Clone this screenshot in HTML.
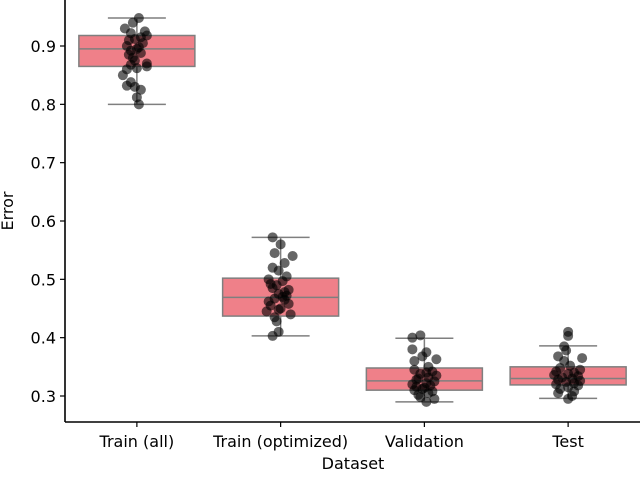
<!DOCTYPE html>
<html><head><meta charset="utf-8"><style>
body{margin:0;background:#fff}
svg text{font-family:"DejaVu Sans","Liberation Sans",sans-serif;fill:#000}
</style></head><body>
<svg id="chart" width="640" height="473" viewBox="0 0 640 473">
<g id="boxes"></g>
<g id="pts"></g>
<g id="axes"></g>
</svg>
<script>
const categories=["Train (all)","Train (optimized)","Validation","Test"];
const whiskLow=[0.800,0.403,0.290,0.296];
const q1=[0.865,0.437,0.310,0.319];
const medians=[0.895,0.469,0.326,0.330];
const q3=[0.918,0.502,0.348,0.350];
const whiskHigh=[0.948,0.572,0.399,0.386];
const yTicks=[0.3,0.4,0.5,0.6,0.7,0.8,0.9];
const pts0=[0.948,0.940,0.930,0.925,0.922,0.918,0.915,0.912,0.910,0.905,0.900,0.898,0.895,0.892,0.888,0.885,0.880,0.875,0.870,0.868,0.865,0.862,0.860,0.850,0.838,0.832,0.830,0.825,0.812,0.800];
const jit0=[2,-4,-12,8,-6,10,4,-2,-8,6,-10,2,0,-6,4,-8,-4,-2,10,-6,10,0,-10,-14,-6,-10,-2,4,0,2];
const pts1=[0.572,0.560,0.545,0.540,0.528,0.520,0.515,0.505,0.500,0.497,0.492,0.490,0.485,0.482,0.478,0.475,0.472,0.470,0.467,0.465,0.462,0.458,0.455,0.450,0.448,0.445,0.440,0.435,0.428,0.410,0.403];
const jit1=[-8,0,-6,12,4,-8,-2,6,-12,2,-10,-4,-8,8,4,-2,6,2,-6,4,-12,8,-10,0,-2,-14,10,-6,-4,-2,-8];
const pts2=[0.404,0.400,0.380,0.375,0.368,0.363,0.360,0.350,0.345,0.342,0.340,0.338,0.335,0.332,0.330,0.328,0.325,0.322,0.320,0.318,0.316,0.314,0.312,0.310,0.308,0.305,0.302,0.298,0.295,0.290];
const jit2=[-4,-12,-12,2,-2,12,-10,4,-10,8,2,-4,12,4,-6,-8,10,2,-12,6,-8,0,-2,-10,8,4,-6,-4,10,2];
const pts3=[0.410,0.403,0.385,0.378,0.368,0.365,0.360,0.352,0.348,0.345,0.342,0.340,0.338,0.336,0.334,0.332,0.330,0.328,0.326,0.324,0.322,0.320,0.318,0.315,0.312,0.308,0.305,0.300,0.295];
const jit3=[0,0,-4,-2,-10,14,-4,2,-8,12,-12,6,0,-14,10,-6,4,-10,12,-2,6,-12,10,0,-8,6,-10,4,0];
const points=[pts0,pts1,pts2,pts3], jitters=[jit0,jit1,jit2,jit3];

const L=65,R=640,T=0,B=422,band=(R-L)/categories.length,boxW=116;
const y=v=>396-(v-0.3)*583.33;
const x=i=>L+band*(i+0.5);
const NS="http://www.w3.org/2000/svg";
function mk(parent,tag,attrs){const e=document.createElementNS(NS,tag);for(const k in attrs)e.setAttribute(k,attrs[k]);parent.appendChild(e);return e;}
const gB=document.getElementById('boxes'),gP=document.getElementById('pts'),gA=document.getElementById('axes');
const gc="#7f7f7f";
const FS=16;
categories.forEach((c,i)=>{
  const cx=x(i);
  let e;
  e=mk(gB,'line',{x1:cx,x2:cx,y1:y(whiskHigh[i]),y2:y(q3[i]),stroke:gc,'stroke-width':1.5});
  
  
  e=mk(gB,'line',{x1:cx,x2:cx,y1:y(q1[i]),y2:y(whiskLow[i]),stroke:gc,'stroke-width':1.5});
  
  
  e=mk(gB,'line',{x1:cx-29,x2:cx+29,y1:y(whiskHigh[i]),y2:y(whiskHigh[i]),stroke:gc,'stroke-width':1.5});
  
  
  e=mk(gB,'line',{x1:cx-29,x2:cx+29,y1:y(whiskLow[i]),y2:y(whiskLow[i]),stroke:gc,'stroke-width':1.5});
  
  
  e=mk(gB,'rect',{x:cx-boxW/2,y:y(q3[i]),width:boxW,height:y(q1[i])-y(q3[i]),fill:"#ef8089",stroke:gc,'stroke-width':1.5});
  
  
  e=mk(gB,'line',{x1:cx-boxW/2,x2:cx+boxW/2,y1:y(medians[i]),y2:y(medians[i]),stroke:gc,'stroke-width':1.5});
  
  
  points[i].forEach((v,j)=>{
    const p=mk(gP,'circle',{cx:cx+jitters[i][j],cy:y(v),r:5,fill:"#000",'fill-opacity':0.6});
    
    
  });
  const t=mk(gA,'line',{x1:cx,x2:cx,y1:B,y2:B+5,stroke:"#000",'stroke-width':1.2});
  
  
  const lb=mk(gA,'text',{x:cx,y:B+25,'text-anchor':'middle','font-size':FS});
  lb.textContent=c;
  
  
});
yTicks.forEach(v=>{
  const t=mk(gA,'line',{x1:L-5,x2:L,y1:y(v),y2:y(v),stroke:"#000",'stroke-width':1.2});
  
  
  const lb=mk(gA,'text',{x:L-9,y:y(v)+6,'text-anchor':'end','font-size':FS});
  lb.textContent=v.toFixed(1);
  
  
});
let e=mk(gA,'line',{x1:L,x2:L,y1:T,y2:B,stroke:"#000",'stroke-width':1.6});


e=mk(gA,'line',{x1:L,x2:R,y1:B,y2:B,stroke:"#000",'stroke-width':1.6});


e=mk(gA,'text',{x:353,y:469,'text-anchor':'middle','font-size':FS});
e.textContent="Dataset";


e=mk(gA,'text',{x:0,y:0,'text-anchor':'middle','font-size':FS,transform:'translate(13,211) rotate(-90)'});
e.textContent="Error";


</script>
</body></html>
